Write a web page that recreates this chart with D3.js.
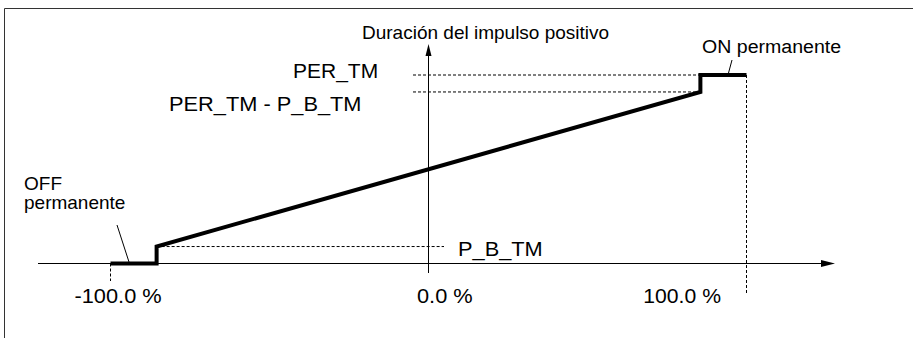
<!DOCTYPE html>
<html>
<head>
<meta charset="utf-8">
<script src="https://cdn.jsdelivr.net/npm/d3@7"></script>
<style>
  html, body { margin: 0; padding: 0; background: #fff; }
  svg { display: block; }
  text { font-family: "Liberation Sans", Arial, sans-serif; font-size: 19px; fill: #000; }
</style>
</head>
<body>
<svg id="chart" width="913" height="338"></svg>
<script>
// ---- data ----
const PER_TM = 1.0;          // period (normalised)
const P_B_TM = 0.09;         // minimum pulse / break time (relative to PER_TM)
const STEP = 85.5;           // % where the output switches to permanent ON / OFF
const xTickValues = [-100, 0, 100];
const xTickLabels = ["-100.0 %", "0.0 %", "100.0 %"];
const curveX = [-100, -STEP, -STEP, STEP, STEP, 100];
const curveY = [0, 0, P_B_TM, PER_TM - P_B_TM, PER_TM, PER_TM];
const levelValues = [PER_TM, PER_TM - P_B_TM, P_B_TM];
const levelLabels = ["PER_TM", "PER_TM - P_B_TM", "P_B_TM"];
const yAxisTitle = "Duración del impulso positivo";
const offLabel = ["OFF", "permanente"];
const onLabel = "ON permanente";

// ---- scales ----
const x = d3.scaleLinear().domain([-100, 100]).range([110.5, 746.5]);
const y = d3.scaleLinear().domain([0, PER_TM]).range([263.5, 75]);

const svg = d3.select("#chart");

function txt(str, tx, ty, size, sx, anchor) {
  return svg.append("text")
    .attr("transform", `translate(${tx},${ty}) scale(${sx},1)`)
    .attr("text-anchor", anchor || "start")
    .style("font-size", size + "px")
    .text(str);
}

// frame
svg.append("path").attr("d", "M4.5,338 V8.5 H913").attr("fill", "none").attr("stroke", "#333").attr("stroke-width", 1);

// dashed helper lines
const dash = "3,2";
function hdash(x1, x2, yv) {
  svg.append("line").attr("x1", x1).attr("x2", x2).attr("y1", y(yv)).attr("y2", y(yv))
    .attr("stroke", "#000").attr("stroke-dasharray", dash);
}
function vdash(xv, y1, y2) {
  svg.append("line").attr("x1", x(xv)).attr("x2", x(xv)).attr("y1", y1).attr("y2", y2)
    .attr("stroke", "#000").attr("stroke-dasharray", dash);
}
hdash(413, x(STEP), levelValues[0]);
hdash(413, x(STEP), levelValues[1]);
hdash(x(-STEP), 444, levelValues[2]);
vdash(-100, y(0), 281);
vdash(100, y(PER_TM), 294);

// x axis with arrow
const x0 = x(0);
const yA = y(0);
svg.append("line").attr("x1", 38).attr("x2", 826).attr("y1", yA).attr("y2", yA).attr("stroke", "#000");
svg.append("path").attr("d", `M835,${yA} L821,${yA - 3.5} L821,${yA + 3.5} Z`).attr("fill", "#000");
// y axis with arrow
svg.append("line").attr("x1", x0).attr("x2", x0).attr("y1", 273).attr("y2", 52).attr("stroke", "#000");
svg.append("path").attr("d", `M${x0},44 L${x0 - 3},56 L${x0 + 3},56 Z`).attr("fill", "#000");

// characteristic curve
const line = d3.line().x(d => x(d[0])).y(d => y(d[1]));
svg.append("path")
  .datum(d3.zip(curveX, curveY))
  .attr("d", line)
  .attr("fill", "none").attr("stroke", "#000").attr("stroke-width", 4)
  .attr("stroke-linejoin", "miter").attr("stroke-linecap", "butt");

// leader lines
svg.append("line").attr("x1", 117).attr("y1", 225).attr("x2", 129).attr("y2", 262).attr("stroke", "#000");
svg.append("line").attr("x1", 732).attr("y1", 60).attr("x2", 728.5).attr("y2", 73).attr("stroke", "#000");

// tick labels
txt(xTickLabels[0], x(xTickValues[0]) - 36, 303, 20, 1.09);
txt(xTickLabels[1], x(xTickValues[1]) - 11.5, 303, 20, 1.09);
txt(xTickLabels[2], x(xTickValues[2]) - 25.5, 303, 20, 1.06, "end");

// level labels
txt(levelLabels[0], 293, 78, 20, 1.05);
txt(levelLabels[1], 169, 111, 20, 1.09);
txt(levelLabels[2], 458, 256, 20, 1.09);

// titles
txt(yAxisTitle, 362, 39, 19, 1.0);
txt(onLabel, 702, 53, 19, 1.03);
txt(offLabel[0], 24, 190, 19, 1.0);
txt(offLabel[1], 24, 209, 19, 1.0);
</script>
</body>
</html>
